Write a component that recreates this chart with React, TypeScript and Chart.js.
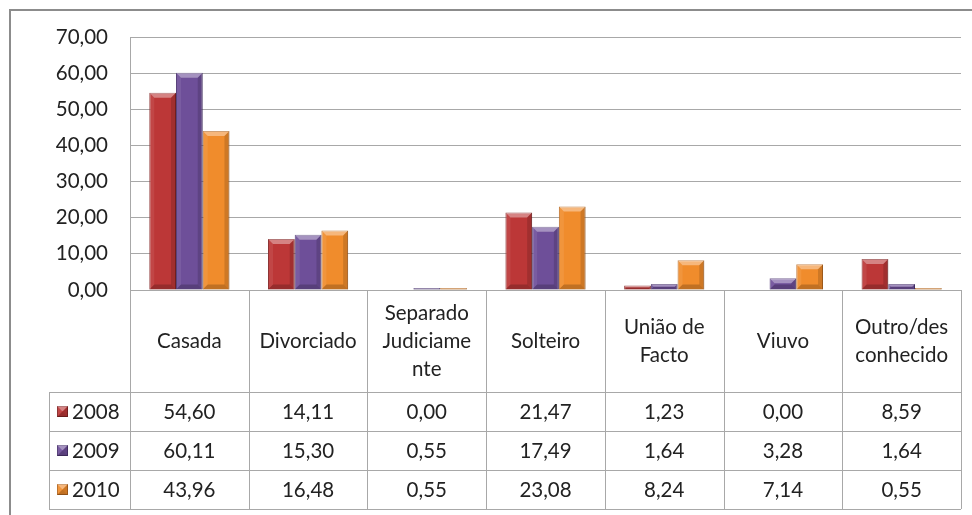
import React, { useEffect, useRef } from "react";
import { Chart, registerables } from "chart.js";

Chart.register(...registerables);

const categories = [
  "Casada",
  "Divorciado",
  "Separado Judiciamente",
  "Solteiro",
  "União de Facto",
  "Viuvo",
  "Outro/desconhecido",
];
const headerLines = [
  ["Casada"],
  ["Divorciado"],
  ["Separado", "Judiciame", "nte"],
  ["Solteiro"],
  ["União de", "Facto"],
  ["Viuvo"],
  ["Outro/des", "conhecido"],
];
const seriesNames = ["2008", "2009", "2010"];
const values2008 = [54.6, 14.11, 0.0, 21.47, 1.23, 0.0, 8.59];
const values2009 = [60.11, 15.3, 0.55, 17.49, 1.64, 3.28, 1.64];
const values2010 = [43.96, 16.48, 0.55, 23.08, 8.24, 7.14, 0.55];
const yMin = 0;
const yMax = 70;
const yStep = 10;

const fills = ["#BC3737", "#6E4F99", "#F08C2C"];
const borders = ["#842424", "#4B3470", "#B5661E"];

const FONT = "Lato, 'Open Sans', sans-serif";
const FONT_SIZE = 20.5;
const TEXT = "#222222";
const LINE = "#a8a8a8";

const fmt = (v: number) => v.toFixed(2).replace(".", ",");

function bevel(ctx: CanvasRenderingContext2D, l: number, t: number, r: number, b: number) {
  const h = b - t;
  const w = r - l;
  if (h < 1 || w < 1) return;
  const e = Math.min(5, h / 2, w / 2);
  ctx.fillStyle = "rgba(255,255,255,0.38)";
  ctx.beginPath();
  ctx.moveTo(l, t);
  ctx.lineTo(r, t);
  ctx.lineTo(r - e, t + e);
  ctx.lineTo(l + e, t + e);
  ctx.closePath();
  ctx.fill();
  ctx.fillStyle = "rgba(255,255,255,0.08)";
  ctx.beginPath();
  ctx.moveTo(l, t);
  ctx.lineTo(l + e, t + e);
  ctx.lineTo(l + e, b - e);
  ctx.lineTo(l, b);
  ctx.closePath();
  ctx.fill();
  ctx.fillStyle = "rgba(0,0,0,0.14)";
  ctx.beginPath();
  ctx.moveTo(r, t);
  ctx.lineTo(r - e, t + e);
  ctx.lineTo(r - e, b - e);
  ctx.lineTo(r, b);
  ctx.closePath();
  ctx.fill();
  ctx.fillStyle = "rgba(0,0,0,0.2)";
  ctx.beginPath();
  ctx.moveTo(l, b);
  ctx.lineTo(l + e, b - e);
  ctx.lineTo(r - e, b - e);
  ctx.lineTo(r, b);
  ctx.closePath();
  ctx.fill();
}

const bevelPlugin = {
  id: "bevel",
  afterDatasetsDraw(chart: any) {
    const ctx = chart.ctx;
    ctx.save();
    chart.data.datasets.forEach((_: any, di: number) => {
      const meta = chart.getDatasetMeta(di);
      meta.data.forEach((el: any) => {
        const l = el.x - el.width / 2;
        const r = el.x + el.width / 2;
        const t = Math.min(el.y, el.base);
        const b = Math.max(el.y, el.base);
        bevel(ctx, l, t, r, b);
      });
    });
    ctx.restore();
  },
};

const tablePlugin = {
  id: "dataTable",
  afterDraw(chart: any) {
    const ctx: CanvasRenderingContext2D = chart.ctx;
    const area = chart.chartArea;
    const xs = chart.scales.x;
    const n = categories.length;
    const colW = (area.right - area.left) / n;
    const headTop = area.bottom;
    const headBottom = headTop + 102;
    const rowH = 39;
    const legendLeft = 49;
    const rows = [values2008, values2009, values2010];
    const tableBottom = headBottom + rowH * rows.length;
    const px = (v: number) => Math.round(v) + 0.5;

    ctx.save();
    ctx.strokeStyle = "#8c8c8c";
    ctx.lineWidth = 2;
    ctx.beginPath();
    ctx.moveTo(10, 520);
    ctx.lineTo(10, 10);
    ctx.lineTo(980, 10);
    ctx.stroke();

    ctx.strokeStyle = LINE;
    ctx.lineWidth = 1;
    ctx.beginPath();
    for (let i = 0; i <= n; i++) {
      const x = px(area.left + i * colW);
      ctx.moveTo(x, headTop);
      ctx.lineTo(x, tableBottom);
    }
    ctx.moveTo(px(legendLeft), px(headBottom));
    ctx.lineTo(px(legendLeft), px(tableBottom));
    for (let r = 0; r <= rows.length; r++) {
      const y = px(headBottom + r * rowH);
      ctx.moveTo(legendLeft, y);
      ctx.lineTo(area.right, y);
    }
    ctx.stroke();

    ctx.fillStyle = TEXT;
    ctx.font = `${FONT_SIZE}px ${FONT}`;
    ctx.textAlign = "center";
    ctx.textBaseline = "middle";
    const headMid = (headTop + headBottom) / 2;
    const lh = 28;
    categories.forEach((_, i) => {
      const cx = xs.getPixelForValue(i);
      const lines = headerLines[i];
      lines.forEach((s, k) => {
        ctx.fillText(s, cx, headMid + (k - (lines.length - 1) / 2) * lh);
      });
    });

    rows.forEach((vals, r) => {
      const cy = headBottom + r * rowH + rowH / 2;
      vals.forEach((v, i) => {
        ctx.fillStyle = TEXT;
        ctx.textAlign = "center";
        ctx.fillText(fmt(v), xs.getPixelForValue(i), cy + 1);
      });
      const kx = 57;
      const ks = 11;
      ctx.fillStyle = fills[r];
      ctx.fillRect(kx, cy - ks / 2, ks, ks);
      ctx.strokeStyle = borders[r];
      ctx.lineWidth = 1;
      ctx.strokeRect(kx + 0.5, cy - ks / 2 + 0.5, ks - 1, ks - 1);
      bevel(ctx, kx, cy - ks / 2, kx + ks, cy + ks / 2);
      ctx.fillStyle = TEXT;
      ctx.textAlign = "left";
      ctx.fillText(seriesNames[r], kx + ks + 4, cy + 1);
    });
    ctx.restore();
  },
};

export default function App() {
  const ref = useRef<HTMLCanvasElement>(null);
  useEffect(() => {
    if (!ref.current) return;
    const series = [values2008, values2009, values2010];
    const chart = new Chart(ref.current, {
      type: "bar",
      data: {
        labels: categories,
        datasets: series.map((vals, i) => ({
          label: seriesNames[i],
          data: vals,
          backgroundColor: fills[i],
          borderColor: borders[i],
          borderWidth: 1,
          borderSkipped: "bottom",
          barPercentage: 1,
          categoryPercentage: 0.675,
        })),
      },
      options: {
        responsive: false,
        animation: false,
        layout: { padding: { left: 0, top: 37, right: 11, bottom: 0 } },
        plugins: { legend: { display: false }, tooltip: { enabled: false } },
        scales: {
          x: {
            ticks: { display: false },
            grid: { display: false },
            border: { display: false },
            afterFit: (s: any) => {
              s.height = 225;
            },
          },
          y: {
            min: yMin,
            max: yMax,
            ticks: {
              stepSize: yStep,
              padding: 22,
              color: TEXT,
              font: { family: FONT, size: FONT_SIZE },
              callback: (v: any) => fmt(Number(v)),
            },
            grid: { color: LINE, drawTicks: false, lineWidth: 1 },
            border: { display: true, color: LINE },
            afterFit: (s: any) => {
              s.width = 130;
            },
          },
        },
      },
      plugins: [bevelPlugin, tablePlugin],
    });
    return () => chart.destroy();
  }, []);
  return (
    <div style={{ position: "absolute", left: 0, top: 0, width: 972, height: 515, background: "#fff" }}>
      <canvas ref={ref} width={972} height={515} style={{ display: "block" }} />
    </div>
  );
}
